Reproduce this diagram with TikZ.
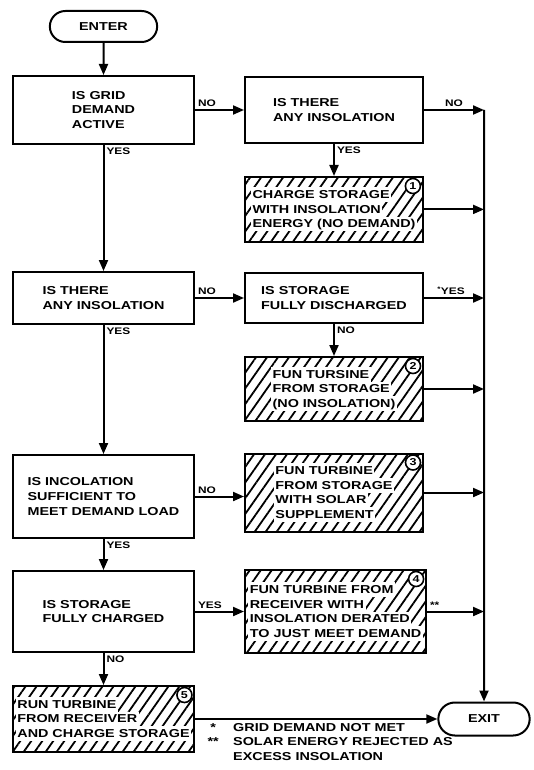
\documentclass[tikz,border=0pt]{standalone}
\usepackage{fontspec}
\setmainfont{Liberation Sans}[FakeStretch=1.25]
\usepackage{tikz}
\usetikzlibrary{arrows.meta,positioning,shapes.misc,patterns.meta}

\newcommand{\flowfont}{\bfseries\fontsize{11.5}{14.7}\selectfont}
\newcommand{\labfont}{\bfseries\fontsize{9.5}{11}\selectfont}
\newcommand{\wb}[1]{{\setlength{\fboxsep}{0pt}\colorbox{white}{\hspace{1.5pt}\rule[-3.5pt]{0pt}{14.7pt}#1\hspace{1.5pt}}}}

\begin{document}
\begin{tikzpicture}[
		x=1pt, y=-1pt,
		>={Triangle[length=11pt,width=9pt]},
		every node/.style={font=\flowfont},
		term/.style={rounded rectangle, draw, line width=2pt, minimum width=100pt, minimum height=32pt},
		ask/.style={draw, line width=2pt, align=left, minimum width=181pt},
		askr/.style={ask, minimum width=178pt},
		act/.style={askr, pattern={Lines[angle=55,distance=9pt,line width=1.8pt]}},
		num/.style={circle, draw, line width=1.6pt, fill=white, inner sep=0pt, minimum size=15pt, font=\bfseries\fontsize{10}{10}\selectfont},
		lab/.style={font=\labfont, inner sep=2pt},
		link/.style={line width=2pt}
		]
		\useasboundingbox (0,0) rectangle (533,770);
		
		\node[term, minimum width=114pt, minimum height=31pt] (enter) at (103.5,26.5) {ENTER};
		\node[ask, minimum height=68pt, below=32pt of enter] (q1) {IS GRID\\DEMAND\\ACTIVE};
		\node[askr, minimum height=66pt, right=49pt of q1] (q2) {IS THERE\\ANY INSOLATION};
		\node[act, minimum height=65pt, below=32pt of q2] (a1) {\wb{CHARGE STORAGE}\\\wb{WITH INSOLATION}\\\wb{ENERGY (NO DEMAND)}};
		
		\node[ask, minimum height=52pt, below=126pt of q1] (q3) {IS THERE\\ANY INSOLATION};
		\node[askr, minimum height=50pt, right=49pt of q3] (q4) {IS STORAGE\\FULLY DISCHARGED};
		\node[act, minimum height=64pt, below=32pt of q4] (a2) {\wb{FUN TURSINE}\\\wb{FROM STORAGE}\\\wb{(NO INSOLATION)}};
		
		\node[ask, minimum height=83pt, below=129pt of q3] (q5) {IS INCOLATION\\SUFFICIENT TO\\MEET DEMAND LOAD};
		\node[act, minimum height=78pt, right=49pt of q5, yshift=4pt] (a3) {\wb{FUN TURBINE}\\\wb{FROM STORAGE}\\\wb{WITH SOLAR}\\\wb{SUPPLEMENT}};
		
		\node[ask, minimum height=81pt, below=31pt of q5] (q6) {IS STORAGE\\FULLY CHARGED};
		\node[act, minimum height=83pt, right=49pt of q6] (a4) {\wb{FUN TURBINE FROM}\\\wb{RECEIVER WITH}\\\wb{INSOLATION DERATED}\\\wb{TO JUST MEET DEMAND}};
		
		\node[act, minimum width=181pt, minimum height=66pt, below=32pt of q6] (a5) {\wb{RUN TURBINE}\\\wb{FROM RECEIVER}\\\wb{AND CHARGE STORAGE}};
		
		\coordinate (busx) at (484,0);
		\node[term, minimum width=98pt, minimum height=33pt] (exit) at (a5.east -| busx) {EXIT};
		
		% step numbers
		\foreach \n in {1,...,5}
		\node[num] (c\n) at ([xshift=-11pt,yshift=-10pt]a\n.north east) {\n};
		
		\draw[link,->] (enter) -- (q1);
		\draw[link,->] (q1) -- node[lab, above right, pos=0] {NO} (q2);
		\draw[link,->] (q2) -- node[lab, above] {NO} (q2 -| exit);
		\draw[link,->] (q2 -| exit) -- (exit);
		\draw[link,->] (q2) -- node[lab, below right, pos=0] {YES} (a1);
		\draw[link,->] (a1) -- (a1 -| exit);
		\draw[link,->] (q1) -- node[lab, below right, pos=0] {YES} (q3);
		\draw[link,->] (q3) -- node[lab, above right, pos=0] {NO} (q4);
		\draw[link,->] (q4) -- node[lab, above, pos=0.45] {\textsuperscript{*}YES} (q4 -| exit);
		\draw[link,->] (q4) -- node[lab, below right, pos=0] {NO} (a2);
		\draw[link,->] (a2) -- (a2 -| exit);
		\draw[link,->] (q3) -- node[lab, below right, pos=0] {YES} (q5);
		\draw[link,->] (q5) -- node[lab, above right, pos=0] {NO} (q5 -| a3.west);
		\draw[link,->] (a3) -- (a3 -| exit);
		\draw[link,->] (q5) -- node[lab, below right, pos=0] {YES} (q6);
		\draw[link,->] (q6) -- node[lab, above right, pos=0] {YES} (q6 -| a4.west);
		\draw[link,->] (a4) -- node[lab, above right, pos=0] {**} (a4 -| exit);
		\draw[link,->] (q6) -- node[lab, below right, pos=0] {NO} (a5);
		\draw[link,->] (a5) -- (exit);
		
		\node[align=left, anchor=north west, inner sep=0pt] (notes) at (208,723) {\makebox[10pt]{*}\hspace{15pt}GRID DEMAND NOT MET\\\makebox[10pt]{**}\hspace{15pt}SOLAR ENERGY REJECTED AS\\\hspace*{25pt}EXCESS INSOLATION};
		
	\end{tikzpicture}
\end{document}
